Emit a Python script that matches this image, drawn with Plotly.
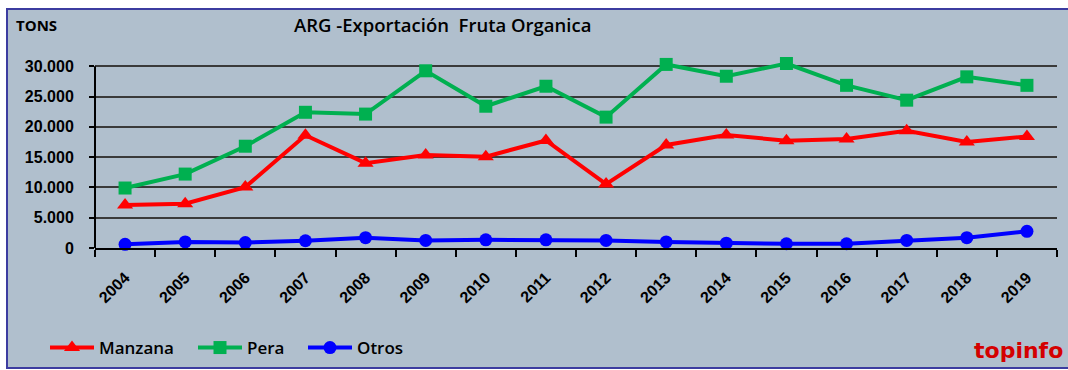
import plotly.graph_objects as go

# Organic fruit exports from Argentina, tonnes per year
years = ["2004", "2005", "2006", "2007", "2008", "2009", "2010", "2011",
         "2012", "2013", "2014", "2015", "2016", "2017", "2018", "2019"]
manzana = [7100, 7300, 10050, 18600, 14000, 15350, 15080, 17750,
           10550, 17000, 18650, 17700, 18000, 19350, 17500, 18400]
pera = [9900, 12200, 16800, 22400, 22100, 29250, 23400, 26700,
        21600, 30300, 28350, 30450, 26850, 24400, 28250, 26850]
otros = [600, 1000, 900, 1200, 1700, 1250, 1350, 1350,
         1250, 1000, 800, 700, 700, 1250, 1700, 2750]
y_ticks = [0, 5000, 10000, 15000, 20000, 25000, 30000]
y_top = 30000

W, H = 1068, 370
ML, MR, MT, MB = 95, 11, 62, 122
PW, PH = W - ML - MR, H - MT - MB


def px_x(x):
    return (x - ML) / PW


def px_y(y):
    return (H - MB - y) / PH


BG = "#b0bfcd"
LABEL_FONT = "Open Sans"
TICK_FONT = dict(family="Liberation Sans", size=16, color="black", weight="bold")

fig = go.Figure()

series = [
    ("Manzana", manzana, "#ff0000", "triangle-up", 14, "legend", 45),
    ("Pera", pera, "#00b050", "square", 13, "legend2", 193),
    ("Otros", otros, "#0000ff", "circle", 13, "legend3", 303),
]
legends = {}
for name, vals, color, symbol, size, leg, leg_x in series:
    fig.add_trace(go.Scatter(
        x=years, y=vals, name=name, mode="lines+markers",
        line=dict(color=color, width=4),
        marker=dict(symbol=symbol, size=size, color=color),
        cliponaxis=False, legend=leg,
    ))
    legends[leg] = dict(
        orientation="h", x=px_x(leg_x), y=px_y(348), xanchor="left", yanchor="middle",
        bgcolor="rgba(0,0,0,0)", borderwidth=0,
        font=dict(family=LABEL_FONT, size=17, color="black", weight=600),
        itemwidth=44,
    )

fig.update_layout(
    width=W, height=H,
    margin=dict(l=ML, r=MR, t=MT, b=MB, pad=0, autoexpand=False),
    paper_bgcolor="white",
    plot_bgcolor=BG,
    separators=",.",
    showlegend=True,
    xaxis=dict(
        type="category", range=[-0.5, 15.5], automargin=False,
        showgrid=False, showline=True, linecolor="black", linewidth=2,
        ticks="outside", tickson="boundaries", ticklen=7, tickwidth=1.5, tickcolor="black",
        tickangle=-45, ticklabelstandoff=12,
        tickfont=TICK_FONT,
    ),
    yaxis=dict(
        range=[0, 30700], tickvals=y_ticks, tickformat=",.0f", automargin=False,
        showgrid=True, gridcolor="#3a3a3a", gridwidth=2,
        showline=False, zeroline=False,
        ticks="outside", ticklen=5, tickwidth=1.5, tickcolor="black",
        ticklabelstandoff=12,
        tickfont=TICK_FONT,
    ),
    shapes=[
        dict(type="rect", xref="paper", yref="paper", layer="below",
             x0=px_x(7), x1=px_x(1080), y0=px_y(368), y1=px_y(9),
             fillcolor=BG, line=dict(color="#3c3ca0", width=2)),
        dict(type="line", xref="paper", yref="y", layer="above",
             x0=0, x1=0, y0=0, y1=y_top, line=dict(color="black", width=2)),
    ],
    annotations=[
        dict(text="TONS", xref="paper", yref="paper", x=px_x(14), y=px_y(25),
             xanchor="left", yanchor="middle", showarrow=False,
             font=dict(family=LABEL_FONT, size=15, color="black", weight="bold")),
        dict(text="ARG -Exportación\u00a0 Fruta Organica", xref="paper", yref="paper",
             x=px_x(292), y=px_y(25), xanchor="left", yanchor="middle", showarrow=False,
             font=dict(family=LABEL_FONT, size=18.5, color="black", weight=600)),
        dict(text="topinfo", xref="paper", yref="paper", x=px_x(972), y=px_y(350),
             xanchor="left", yanchor="middle", showarrow=False,
             font=dict(family="DejaVu Sans", size=22, color="#d40000", weight="bold")),
    ],
)
fig.update_layout(**legends)

fig.write_html("out.html")
